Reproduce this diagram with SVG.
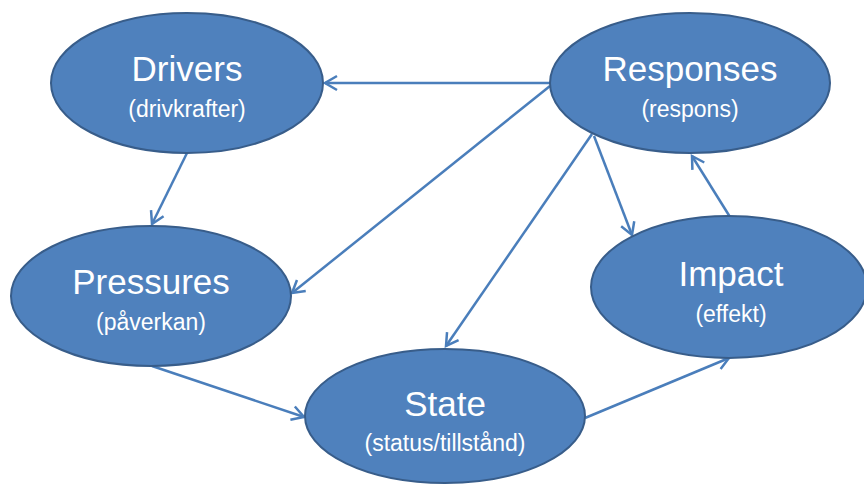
<svg xmlns="http://www.w3.org/2000/svg" width="864" height="485" viewBox="0 0 864 485">
<defs>
<style>
.node{fill:#4F81BD;stroke:#385D8A;stroke-width:2}
.t1{font-family:"Liberation Sans",Arial,sans-serif;font-size:35px;fill:#fff;text-anchor:middle}
.t2{font-family:"Liberation Sans",Arial,sans-serif;font-size:23px;fill:#fff;text-anchor:middle}
.edge{stroke:#4A7EBB;stroke-width:2.5;fill:none;marker-end:url(#arr)}
</style>
<marker id="arr" markerUnits="userSpaceOnUse" markerWidth="18" markerHeight="18" viewBox="0 0 18 18" refX="15" refY="9" orient="auto">
<path d="M3,2 L15,9 L3,16" fill="none" stroke="#4A7EBB" stroke-width="2.5" stroke-linejoin="miter"/>
</marker>
</defs>
<rect width="864" height="485" fill="#fff"/>
<g id="connectors">
<line class="edge" x1="550" y1="83" x2="325" y2="83"/>
<line class="edge" x1="550" y1="86" x2="292" y2="293"/>
<line class="edge" x1="187" y1="153" x2="152" y2="224"/>
<line class="edge" x1="592" y1="134" x2="446" y2="346"/>
<line class="edge" x1="594" y1="136" x2="632" y2="235"/>
<line class="edge" x1="730" y1="217" x2="692" y2="156"/>
<line class="edge" x1="152" y1="366" x2="304" y2="417"/>
<line class="edge" x1="585" y1="418" x2="729" y2="358"/>
</g>
<g id="drivers">
<ellipse class="node" cx="187" cy="83" rx="136" ry="70"/>
<text class="t1" x="187" y="81">Drivers</text>
<text class="t2" x="187" y="117">(drivkrafter)</text>
</g>
<g id="responses">
<ellipse class="node" cx="690" cy="83" rx="140" ry="70"/>
<text class="t1" x="690" y="81">Responses</text>
<text class="t2" x="690" y="117">(respons)</text>
</g>
<g id="pressures">
<ellipse class="node" cx="151" cy="296" rx="140" ry="70"/>
<text class="t1" x="151" y="294">Pressures</text>
<text class="t2" x="151" y="330">(påverkan)</text>
</g>
<g id="impact">
<ellipse class="node" cx="729" cy="287" rx="138" ry="71"/>
<text class="t1" x="731" y="286">Impact</text>
<text class="t2" x="731" y="322">(effekt)</text>
</g>
<g id="state">
<ellipse class="node" cx="445" cy="416" rx="140" ry="67"/>
<text class="t1" x="445" y="416">State</text>
<text class="t2" x="445" y="451">(status/tillstånd)</text>
</g>
</svg>
